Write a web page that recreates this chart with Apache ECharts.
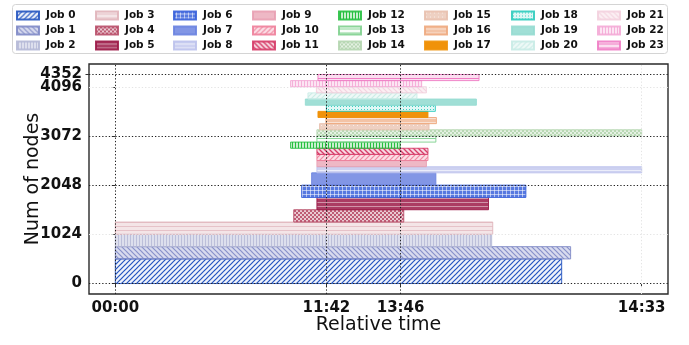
<!DOCTYPE html>
<html>
<head>
<meta charset="utf-8">
<script src="https://cdn.jsdelivr.net/npm/echarts@6/dist/echarts.min.js"></script>
<style>
  html, body { margin: 0; padding: 0; background: #fff; }
  #chart { width: 689px; height: 345px; }
</style>
</head>
<body>
<div id="chart"></div>
<script>
// x values are positions on the relative-time axis (0 = 00:00, 100 = 14:33)
const jobNames = ["Job 0", "Job 1", "Job 2", "Job 3", "Job 4", "Job 5", "Job 6", "Job 7",
  "Job 8", "Job 9", "Job 10", "Job 11", "Job 12", "Job 13", "Job 14", "Job 15",
  "Job 16", "Job 17", "Job 18", "Job 19", "Job 20", "Job 21", "Job 22", "Job 23"];
const jobStart = [0, 0, 0, 0, 33.9, 38.3, 35.4, 37.3, 38.3, 38.3, 38.3, 38.3,
  33.3, 38.3, 38.3, 38.8, 40.0, 38.5, 40.1, 36.1, 36.6, 38.2, 33.3, 38.5];
const jobEnd = [84.8, 86.5, 71.5, 71.7, 54.8, 70.9, 78.0, 60.9, 100, 59.1, 59.4, 59.4,
  54.1, 60.9, 100, 59.6, 61.0, 59.4, 60.8, 68.6, 57.3, 59.1, 58.2, 69.1];
const nodeLow = [0, 512, 768, 1024, 1280, 1536, 1792, 2048, 2304, 2432, 2560, 2688,
  2816, 2944, 3072, 3200, 3328, 3456, 3584, 3712, 3840, 3968, 4096, 4224];
const nodeHigh = [512, 768, 1024, 1280, 1536, 1792, 2048, 2304, 2432, 2560, 2688, 2816,
  2944, 3072, 3200, 3328, 3456, 3584, 3712, 3840, 3968, 4096, 4224, 4352];
const timeTicks = [0, 40.1, 54.2, 100];
const timeLabels = ["00:00", "11:42", "13:46", "14:33"];
const nodeTicks = [0, 1024, 2048, 3072, 4096, 4352];
// grid lines drawn dark / faint in the figure
const darkNodeLines = [0, 2048, 3072, 4352];
const darkTimeLines = [0, 40.1, 54.2];
const faintNodeLines = [1024, 4096];
const faintTimeLines = [100];

// styles: colour, hatch, fill alpha, hatch alpha, hatch width, tile size
const jobColor = ["#2354c0", "#7f89c6", "#b4b8d6", "#e0b4ba", "#b9506a", "#9c1a48", "#3a62da", "#6c84e0",
  "#bcc2ec", "#e8a0b2", "#ee7f9a", "#d63c68", "#26c040", "#7fd08e", "#b5d6b0", "#e8c0ae",
  "#eeaa80", "#f0920a", "#2ccbbd", "#96dcd2", "#c8ebe6", "#f3d0de", "#f4aad6", "#f07cc4"];
const jobHatch = ["/", "\\", "|", "-", "c", "-", "+", "", "-", "", "/", "\\",
  "|", "-", "c", ".", "-", "", ".", "", "/", "\\", "|", "-"];
const fillAlpha = [0.08, 0.3, 0.45, 0.35, 0.3, 0.85, 0.85, 0.85, 0.75, 0.75, 0.25, 0.2,
  0.25, 0.05, 0.35, 0.75, 0.7, 1, 0.15, 0.9, 0.3, 0.35, 0.3, 0.25];
const lineAlpha = [1, 0.9, 0.8, 0.7, 0.9, 0.45, 0.55, 0, 0.6, 0, 0.9, 1,
  1, 0.9, 0.9, 0.6, 0.5, 0, 0.9, 0, 0.9, 0.9, 0.9, 1];
const lineWidth = [1.2, 1.2, 1, 1, 1, 1, 1, 1, 1, 1, 1.2, 1.3, 1, 1, 1, 1, 1, 1, 1, 1, 1.2, 1.2, 1, 1];
const tileSize = [5, 5, 3, 4, 4, 4, 4, 4, 4, 4, 5, 5, 3, 4, 4, 4, 4, 4, 3, 4, 5, 5, 3, 4];
const whiteLines = [5, 6, 8, 15, 16];

function rgba(hex, a) {
  const n = parseInt(hex.slice(1), 16);
  return "rgba(" + (n >> 16) + "," + ((n >> 8) & 255) + "," + (n & 255) + "," + a + ")";
}

function makePattern(i) {
  const s = tileSize[i];
  const c = document.createElement("canvas");
  c.width = s; c.height = s;
  const g = c.getContext("2d");
  g.fillStyle = rgba(jobColor[i], fillAlpha[i]);
  g.fillRect(0, 0, s, s);
  const lc = whiteLines.indexOf(i) >= 0 ? "rgba(255,255,255," + lineAlpha[i] + ")" : rgba(jobColor[i], lineAlpha[i]);
  g.strokeStyle = lc;
  g.fillStyle = lc;
  g.lineWidth = lineWidth[i];
  const h = jobHatch[i];
  const seg = (x0, y0, x1, y1) => { g.beginPath(); g.moveTo(x0, y0); g.lineTo(x1, y1); g.stroke(); };
  if (h === "/") {
    seg(-1, 1, 1, -1); seg(0, s, s, 0); seg(s - 1, s + 1, s + 1, s - 1);
  } else if (h === "\\") {
    seg(-1, s - 1, 1, s + 1); seg(0, 0, s, s); seg(s - 1, -1, s + 1, 1);
  } else if (h === "|") {
    g.fillRect(Math.floor(s / 2), 0, lineWidth[i], s);
  } else if (h === "-") {
    g.fillRect(0, Math.floor(s / 2), s, lineWidth[i]);
  } else if (h === "+") {
    g.fillRect(Math.floor(s / 2), 0, 1, s);
    g.fillRect(0, Math.floor(s / 2), s, 1);
  } else if (h === "c") {
    g.fillRect(0, 0, s / 2, s / 2);
    g.fillRect(s / 2, s / 2, s / 2, s / 2);
  } else if (h === ".") {
    g.fillRect(1, 1, 1, 1);
  }
  return { image: c, repeat: "repeat" };
}

const patterns = jobNames.map((n, i) => makePattern(i));

const chart = echarts.init(document.getElementById("chart"), null, { renderer: "canvas" });

const jobSeries = jobNames.map((name, i) => ({
  name: name,
  type: "custom",
  itemStyle: { color: patterns[i], borderColor: rgba(jobColor[i], 0.9), borderWidth: 1 },
  encode: { x: [0, 1], y: [2, 3] },
  data: [[jobStart[i], jobEnd[i], nodeLow[i], nodeHigh[i]]],
  renderItem: function (params, api) {
    const a = api.coord([api.value(0), api.value(3)]);
    const b = api.coord([api.value(1), api.value(2)]);
    return {
      type: "rect",
      shape: { x: a[0], y: a[1], width: b[0] - a[0], height: b[1] - a[1] },
      style: { fill: patterns[i], stroke: rgba(jobColor[i], 0.9), lineWidth: 1 }
    };
  }
}));

const faint = { color: "#e4e4e4" };
const gridSeries = {
  type: "line",
  data: [],
  silent: true,
  markLine: {
    silent: true,
    symbol: "none",
    label: { show: false },
    animation: false,
    lineStyle: { type: [1.3, 2], width: 1, color: "#222" },
    data: darkNodeLines.map(v => ({ yAxis: v }))
      .concat(darkTimeLines.map(v => ({ xAxis: v })))
      .concat(faintNodeLines.map(v => ({ yAxis: v, lineStyle: faint })))
      .concat(faintTimeLines.map(v => ({ xAxis: v, lineStyle: faint })))
  }
};

const legendLeft = [16, 95, 173, 252, 338, 424, 511, 597];
const font = "DejaVu Sans";

// the two top node labels sit close together, so the topmost one gets its own axis
function nodeAxis(values, withName) {
  return {
    type: "value",
    position: "left",
    min: -217.6,
    max: 4569.6,
    axisLine: { show: false },
    splitLine: { show: false },
    minorTick: { show: false },
    minorSplitLine: { show: false },
    axisTick: { show: true, customValues: values, length: 3.5, lineStyle: { color: "#333" } },
    axisLabel: {
      customValues: values,
      hideOverlap: false,
      formatter: function (v) { return String(Math.round(v)); },
      fontFamily: font, fontWeight: "bold", fontSize: 15, color: "#111", margin: 7
    },
    name: withName ? "Num of nodes" : "",
    nameLocation: "middle",
    nameGap: 46,
    nameMoveOverlap: false,
    nameTextStyle: { fontFamily: font, fontSize: 19, color: "#111" }
  };
}

chart.setOption({
  animation: false,
  textStyle: { fontFamily: font },
  graphic: [{
    type: "rect", left: 12, top: 4, z: -1,
    shape: { width: 655, height: 49, r: 3 },
    style: { fill: "#fff", stroke: "#d4d4d4", lineWidth: 1 }
  }],
  legend: legendLeft.map((left, k) => ({
    orient: "vertical",
    left: left,
    top: 10,
    padding: 0,
    icon: "rect",
    itemWidth: 22,
    itemHeight: 8,
    itemGap: 4,
    selectedMode: false,
    data: jobNames.slice(k * 3, k * 3 + 3),
    textStyle: { fontFamily: font, fontWeight: "bold", fontSize: 10.5, color: "#111", padding: [0, 0, 0, 2] }
  })),
  grid: { left: 89, right: 21, top: 64, bottom: 51, show: true, borderColor: "#2a2a2a", borderWidth: 1.4 },
  xAxis: {
    type: "value",
    min: -5,
    max: 105,
    axisLine: { show: false },
    splitLine: { show: false },
    minorTick: { show: false },
    minorSplitLine: { show: false },
    axisTick: { show: true, customValues: timeTicks, length: 3.5, lineStyle: { color: "#333" } },
    axisLabel: {
      customValues: timeTicks,
      hideOverlap: false,
      showMinLabel: true,
      showMaxLabel: true,
      formatter: function (v) {
        let best = 0;
        timeTicks.forEach((t, j) => { if (Math.abs(t - v) < Math.abs(timeTicks[best] - v)) best = j; });
        return timeLabels[best];
      },
      fontFamily: font, fontWeight: "bold", fontSize: 15, color: "#111", margin: 7
    },
    name: "Relative time",
    nameLocation: "middle",
    nameGap: 22,
    nameMoveOverlap: false,
    nameTextStyle: { fontFamily: font, fontSize: 19, color: "#111" }
  },
  yAxis: [nodeAxis(nodeTicks.slice(0, -1), true), nodeAxis(nodeTicks.slice(-1), false)],
  series: jobSeries.concat([gridSeries])
});
</script>
</body>
</html>
